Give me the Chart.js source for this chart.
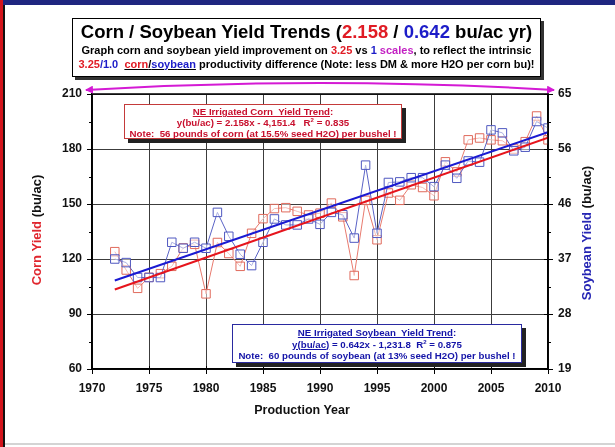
<!DOCTYPE html>
<html><head><meta charset="utf-8">
<script src="https://cdn.jsdelivr.net/npm/chart.js@4.4.1/dist/chart.umd.min.js"></script>
<style>
html,body{margin:0;padding:0;background:#fff;}
#wrap{position:relative;width:615px;height:447px;overflow:hidden;font-family:'Liberation Sans',Arial,Helvetica,sans-serif;background:#fff;}
#c{position:absolute;left:0;top:0;}
.ov{position:absolute;white-space:nowrap;font-weight:bold;}
.box{position:absolute;background:#fff;box-sizing:border-box;text-align:center;font-weight:bold;white-space:nowrap;}
#title{left:72px;top:18px;width:469px;height:59px;border:1px solid #000;box-shadow:3px 3px 0 #333;color:#000;padding-top:2px;}
#title .t1{font-size:18.5px;line-height:22px;}
#title .t2{font-size:11px;line-height:14px;}
.r{color:#e01b24}.b{color:#1c1cc8}.m{color:#c21fc2}
#cornbox{left:124px;top:104px;width:278px;height:35px;border:1px solid #c43a3a;box-shadow:4px 4px 0 #222;color:#c8102e;font-size:9.7px;line-height:11px;padding-top:1px;}
#soybox{left:232px;top:324px;width:290px;height:39px;border:1px solid #2a2aa0;box-shadow:4px 4px 0 #222;color:#1414a8;font-size:9.7px;line-height:11.5px;padding-top:2px;}
.u{text-decoration:underline;}
.rot{position:absolute;transform:translate(-50%,-50%) rotate(-90deg);white-space:nowrap;font-weight:bold;font-size:13px;color:#111;}
#xt{left:302px;top:410px;transform:translate(-50%,-50%);font-size:12.5px;color:#111;}
#topbar{position:absolute;left:0;top:0;width:615px;height:5px;background:#1f2680;}
#lbar{position:absolute;left:0;top:0;width:3px;height:447px;background:#d3141c;}
#lbar2{position:absolute;left:3px;top:5px;width:2px;height:442px;background:#111;}
#bline{position:absolute;left:5px;top:443px;width:610px;height:2px;background:#d4d4d4;}
svg{position:absolute;left:0;top:0;}
</style>
</head><body>
<div id="wrap">
<canvas id="c" width="615" height="447"></canvas>
<div id="topbar"></div><div id="lbar"></div><div id="lbar2"></div><div id="bline"></div>
<svg width="615" height="447">
  <defs><marker id="ah" markerWidth="8" markerHeight="8" refX="7" refY="4" orient="auto-start-reverse" markerUnits="userSpaceOnUse">
    <path d="M0,0 L8,4 L0,8 z" fill="#d41ad4"/></marker></defs>
  <path d="M86,90 Q320,76 554,90" stroke="#d41ad4" stroke-width="2" fill="none" marker-start="url(#ah)" marker-end="url(#ah)"/>
</svg>
<div id="title" class="box">
  <div class="t1">Corn / Soybean Yield Trends (<span class="r">2.158</span> / <span class="b">0.642</span> bu/ac yr)</div>
  <div class="t2">Graph corn and soybean yield improvement on <span class="r">3.25</span> vs <span class="b">1</span> <span class="m">scales</span>, to reflect the intrinsic</div>
  <div class="t2"><span class="r">3.25</span><span class="b">/1.0</span>&nbsp; <span class="u"><span class="r">corn</span>/<span class="b">soybean</span></span> productivity difference (Note: less DM &amp; more H2O per corn bu)!</div>
</div>
<div id="cornbox" class="box">
  <div><span class="u">NE Irrigated Corn&nbsp; Yield Trend</span>:</div>
  <div>y(bu/ac) = 2.158x - 4,151.4&nbsp;&nbsp; R<sup style="font-size:6px;line-height:0">2</sup> = 0.835</div>
  <div>Note:&nbsp; 56 pounds of corn (at 15.5% seed H2O) per bushel !</div>
</div>
<div id="soybox" class="box">
  <div><span class="u">NE Irrigated Soybean&nbsp; Yield Trend</span>:</div>
  <div><span class="u">y(bu/ac)</span> = 0.642x - 1,231.8&nbsp; R<sup style="font-size:6px;line-height:0">2</sup> = 0.875</div>
  <div>Note:&nbsp; 60 pounds of soybean (at 13% seed H2O) per bushel !</div>
</div>
<div class="rot" style="left:36px;top:230px;"><span style="color:#e0262e">Corn Yield</span> (bu/ac)</div>
<div class="rot" style="left:586px;top:233px;"><span style="color:#2626b4">Soybean Yield</span> (bu/ac)</div>
<div id="xt" class="ov">Production Year</div>
</div>
<script>
const years = [1972,1973,1974,1975,1976,1977,1978,1979,1980,1981,1982,1983,1984,1985,1986,1987,1988,1989,1990,1991,1992,1993,1994,1995,1996,1997,1998,1999,2000,2001,2002,2003,2004,2005,2006,2007,2008,2009,2010];
const cornYield = [124,114,104,110,112,116,126,128,101,129,123,116,134,142,147.5,148,146,144,145,150.5,143,111,152,130.5,156,152,160.5,159,154.5,173,167.5,185,186,185,184.5,180,184,198,185];
const soyYield = [37.4,36.8,34.3,34.3,34.3,40.2,39.2,40.2,39.2,45.2,41.2,38.2,36.3,40.2,44.1,43.1,43.1,44.1,43.2,45.2,44.8,40.9,53.1,41.7,50.2,50.3,51.0,51.0,49.5,53.1,50.9,53.8,53.6,59.0,58.5,55.5,56.1,60.4,59.3];
const trendYears = [1972, 2010];
const cornTrend = [103.4, 186.2];
const soyTrend = [33.8, 58.6];
const xTicks = [1970,1975,1980,1985,1990,1995,2000,2005,2010];
const cornTicks = [60,90,120,150,180,210];
const soyTickLabels = ['19','28','37','46','56','65'];

const FONT = {family:"'Liberation Sans', Arial, sans-serif", size:12, weight:'bold'};
const pts = (xs, ys) => xs.map((x,i)=>({x:x, y:ys[i]}));

const extraTicks = {
  id:'extraTicks',
  afterDatasetsDraw(chart){
    const {ctx, chartArea:a, scales} = chart;
    ctx.save();
    ctx.strokeStyle = '#000';
    ctx.lineWidth = 1.5;
    ctx.strokeRect(a.left, a.top, a.right-a.left, a.bottom-a.top);
    ctx.lineWidth = 1;
    const y = scales.y, y2 = scales.y2, x = scales.x;
    for (let i=0;i<cornTicks.length-1;i++){
      const v=(cornTicks[i]+cornTicks[i+1])/2, py=Math.round(y.getPixelForValue(v))+0.5;
      ctx.beginPath(); ctx.moveTo(a.left-3,py); ctx.lineTo(a.left,py); ctx.stroke();
      const pr = y2.getPixelForValue(19+(i+0.5)*46/5);
      ctx.beginPath(); ctx.moveTo(a.right,Math.round(pr)+0.5); ctx.lineTo(a.right+3,Math.round(pr)+0.5); ctx.stroke();
    }
    for (let i=0;i<cornTicks.length;i++){
      const pr = Math.round(y2.getPixelForValue(19+i*46/5))+0.5;
      ctx.beginPath(); ctx.moveTo(a.right-4,pr); ctx.lineTo(a.right,pr); ctx.stroke();
    }
    xTicks.forEach(v=>{
      const px = Math.round(x.getPixelForValue(v))+0.5;
      ctx.beginPath(); ctx.moveTo(px,a.bottom-3); ctx.lineTo(px,a.bottom); ctx.stroke();
    });
    ctx.restore();
  }
};

new Chart(document.getElementById('c'), {
  type:'line',
  data:{
    datasets:[
      {label:'Corn trend', data:pts(trendYears,cornTrend), yAxisID:'y', borderColor:'#e6141c', borderWidth:2, pointRadius:0, fill:false},
      {label:'Soybean trend', data:pts(trendYears,soyTrend), yAxisID:'y2', borderColor:'#1a1ad2', borderWidth:2, pointRadius:0, fill:false},
      {label:'Soybean', data:pts(years,soyYield), yAxisID:'y2', borderColor:'#5a63c6', borderWidth:1, pointStyle:'rect', pointRadius:6, pointBorderWidth:1, pointBorderColor:'#4f58c0', pointBackgroundColor:'rgba(255,255,255,0.5)', fill:false, tension:0},
      {label:'Corn', data:pts(years,cornYield), yAxisID:'y', borderColor:'#e87a6e', borderWidth:1, pointStyle:'rect', pointRadius:6, pointBorderWidth:1, pointBorderColor:'#e06a5c', pointBackgroundColor:'rgba(255,255,255,0.5)', fill:false, tension:0}
    ]
  },
  options:{
    responsive:false, animation:false, events:[],
    layout:{padding:{top:94, bottom:38, left:0, right:0}},
    plugins:{legend:{display:false}, tooltip:{enabled:false}, title:{display:false}},
    scales:{
      x:{type:'linear', min:1970, max:2010,
         afterBuildTicks: s => { s.ticks = xTicks.map(v=>({value:v})); },
         afterFit: s => { s.height = 40; },
         ticks:{font:FONT, color:'#111', padding:7, maxRotation:0, callback:v=>String(v)},
         grid:{color:'#3c3c3c', lineWidth:1, drawTicks:true, tickLength:5, tickColor:'#000'},
         border:{display:true, color:'#000', width:1.5}},
      y:{type:'linear', position:'left', min:60, max:210,
         afterBuildTicks: s => { s.ticks = cornTicks.map(v=>({value:v})); },
         afterFit: s => { s.width = 92; },
         ticks:{font:FONT, color:'#111', padding:5, callback:v=>String(v)},
         grid:{color:'#3c3c3c', lineWidth:1, drawTicks:true, tickLength:5, tickColor:'#000'},
         border:{display:true, color:'#000', width:1.5}},
      y2:{type:'linear', position:'right', min:19, max:65,
         afterBuildTicks: s => { s.ticks = soyTickLabels.map((l,i)=>({value:19+i*46/5})); },
         afterFit: s => { s.width = 67; },
         ticks:{font:FONT, color:'#111', padding:5, callback:(v,i)=>soyTickLabels[i]},
         grid:{drawOnChartArea:false, drawTicks:true, tickLength:5, tickColor:'#000'},
         border:{display:true, color:'#000', width:1.5}}
    }
  },
  plugins:[extraTicks]
});
</script>
</body></html>
